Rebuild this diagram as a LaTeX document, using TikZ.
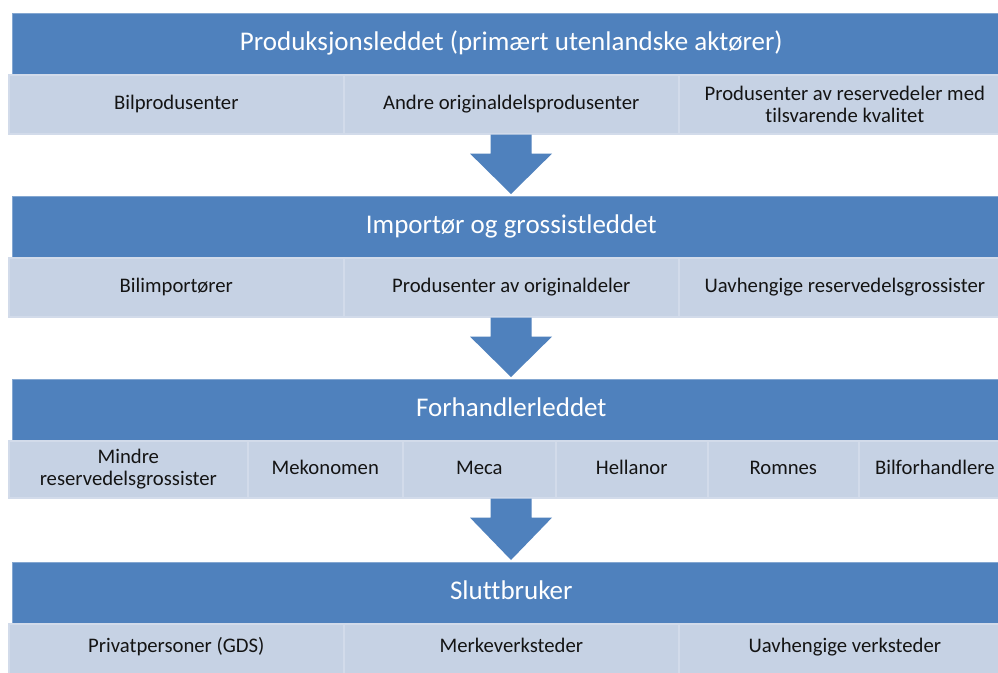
\documentclass[tikz,border=0pt]{standalone}
\usepackage{fontspec}
\setmainfont[Ligatures=NoCommon]{Carlito}
\usetikzlibrary{calc}
\definecolor{hdrblue}{RGB}{79,129,189}
\definecolor{cellfill}{RGB}{198,210,228}
\definecolor{celledge}{RGB}{210,219,234}
\definecolor{celltext}{RGB}{20,20,20}
\tikzset{
  hdr/.style={anchor=north west, fill=hdrblue, draw=hdrblue!70!white, line width=0.6pt,
    inner sep=0pt},
  hdrtext/.style={text=white, inner sep=0pt, text height=18pt, text depth=5pt,
    font=\fontsize{27}{30}\selectfont},
  cell/.style={anchor=north west, fill=cellfill, draw=celledge, line width=1.6pt,
    inner sep=0pt},
  celltxt/.style={text=celltext, inner sep=0pt, text height=14pt, text depth=4pt,
    font=\fontsize{20.7}{22}\selectfont},
  celltwo/.style={text=celltext, align=center, font=\fontsize{20.7}{22}\selectfont}
}
\newcommand{\blkarrow}[3]{%
  \path let \p1=(#1.south), \p2=(#2.north) in
    coordinate (#3top) at (511,\y1)
    coordinate (#3tip) at (511,\y2);
  \fill[hdrblue] let \p1=(#3top), \p2=(#3tip) in
    (\x1-20.5,\y1) -- (\x1+20.5,\y1) -- (\x1+20.5,{\y1-19}) -- (\x1+41,{\y1-19})
    -- (\x2,{\y2+2}) -- (\x1-41,{\y1-19}) -- (\x1-20.5,{\y1-19}) -- cycle;
}
\begin{document}
\begin{tikzpicture}[x=1pt,y=-1pt]
\useasboundingbox (0,0) rectangle (998,672);
\clip (0,0) rectangle (998,672);
\fill[white] (0,0) rectangle (998,672);

% Row 1
\node[hdr, minimum width=998pt, minimum height=61pt] (h1) at (12,13) {};
\node[hdrtext] (h1t) at (h1.center) {Produksjonsleddet (primært utenlandske aktører)};
\node[cell, minimum width=335pt, minimum height=59pt] (s1a) at (8,74) {};
\node[cell, minimum width=335pt, minimum height=59pt] (s1b) at (343,74) {};
\node[cell, minimum width=332pt, minimum height=59pt] (s1c) at (678,74) {};
\node[celltxt] (t1a) at (s1a.center) {Bilprodusenter};
\node[celltxt] (t1b) at (s1b.center) {Andre originaldelsprodusenter};
\node[celltwo] (t1c) at (s1c.center) {Produsenter av reservedeler med\\tilsvarende kvalitet};

% Row 2
\node[hdr, minimum width=998pt, minimum height=61pt] (h2) at (12,196) {};
\node[hdrtext] (h2t) at (h2.center) {Importør og grossistleddet};
\node[cell, minimum width=335pt, minimum height=59pt] (s2a) at (8,257) {};
\node[cell, minimum width=335pt, minimum height=59pt] (s2b) at (343,257) {};
\node[cell, minimum width=332pt, minimum height=59pt] (s2c) at (678,257) {};
\node[celltxt] (t2a) at (s2a.center) {Bilimportører};
\node[celltxt] (t2b) at (s2b.center) {Produsenter av originaldeler};
\node[celltxt] (t2c) at (s2c.center) {Uavhengige reservedelsgrossister};

% Row 3
\node[hdr, minimum width=998pt, minimum height=61pt] (h3) at (12,379) {};
\node[hdrtext] (h3t) at (h3.center) {Forhandlerleddet};
\node[cell, minimum width=239pt, minimum height=57pt] (s3a) at (8,440) {};
\node[cell, minimum width=155pt, minimum height=57pt] (s3b) at (247,440) {};
\node[cell, minimum width=153pt, minimum height=57pt] (s3c) at (402,440) {};
\node[cell, minimum width=152pt, minimum height=57pt] (s3d) at (555,440) {};
\node[cell, minimum width=151pt, minimum height=57pt] (s3e) at (707,440) {};
\node[cell, minimum width=152pt, minimum height=57pt] (s3f) at (858,440) {};
\node[celltwo] (t3a) at (s3a.center) {Mindre\\reservedelsgrossister};
\node[celltxt] (t3b) at (s3b.center) {Mekonomen};
\node[celltxt] (t3c) at (s3c.center) {Meca};
\node[celltxt] (t3d) at (s3d.center) {Hellanor};
\node[celltxt] (t3e) at (s3e.center) {Romnes};
\node[celltxt] (t3f) at (s3f.center) {Bilforhandlere};

% Row 4
\node[hdr, minimum width=998pt, minimum height=61pt] (h4) at (12,562) {};
\node[hdrtext] (h4t) at (h4.center) {Sluttbruker};
\node[cell, minimum width=335pt, minimum height=59pt] (s4a) at (8,623) {};
\node[cell, minimum width=335pt, minimum height=59pt] (s4b) at (343,623) {};
\node[cell, minimum width=332pt, minimum height=59pt] (s4c) at (678,623) {};
\node[celltxt] (t4a) at ($(s4a.north)+(0,24)$) {Privatpersoner (GDS)};
\node[celltxt] (t4b) at ($(s4b.north)+(0,24)$) {Merkeverksteder};
\node[celltxt] (t4c) at ($(s4c.north)+(0,24)$) {Uavhengige verksteder};

% Block arrows
\blkarrow{s1b}{h2}{a1}
\blkarrow{s2b}{h3}{a2}
\blkarrow{s3c}{h4}{a3}
\end{tikzpicture}
\end{document}
